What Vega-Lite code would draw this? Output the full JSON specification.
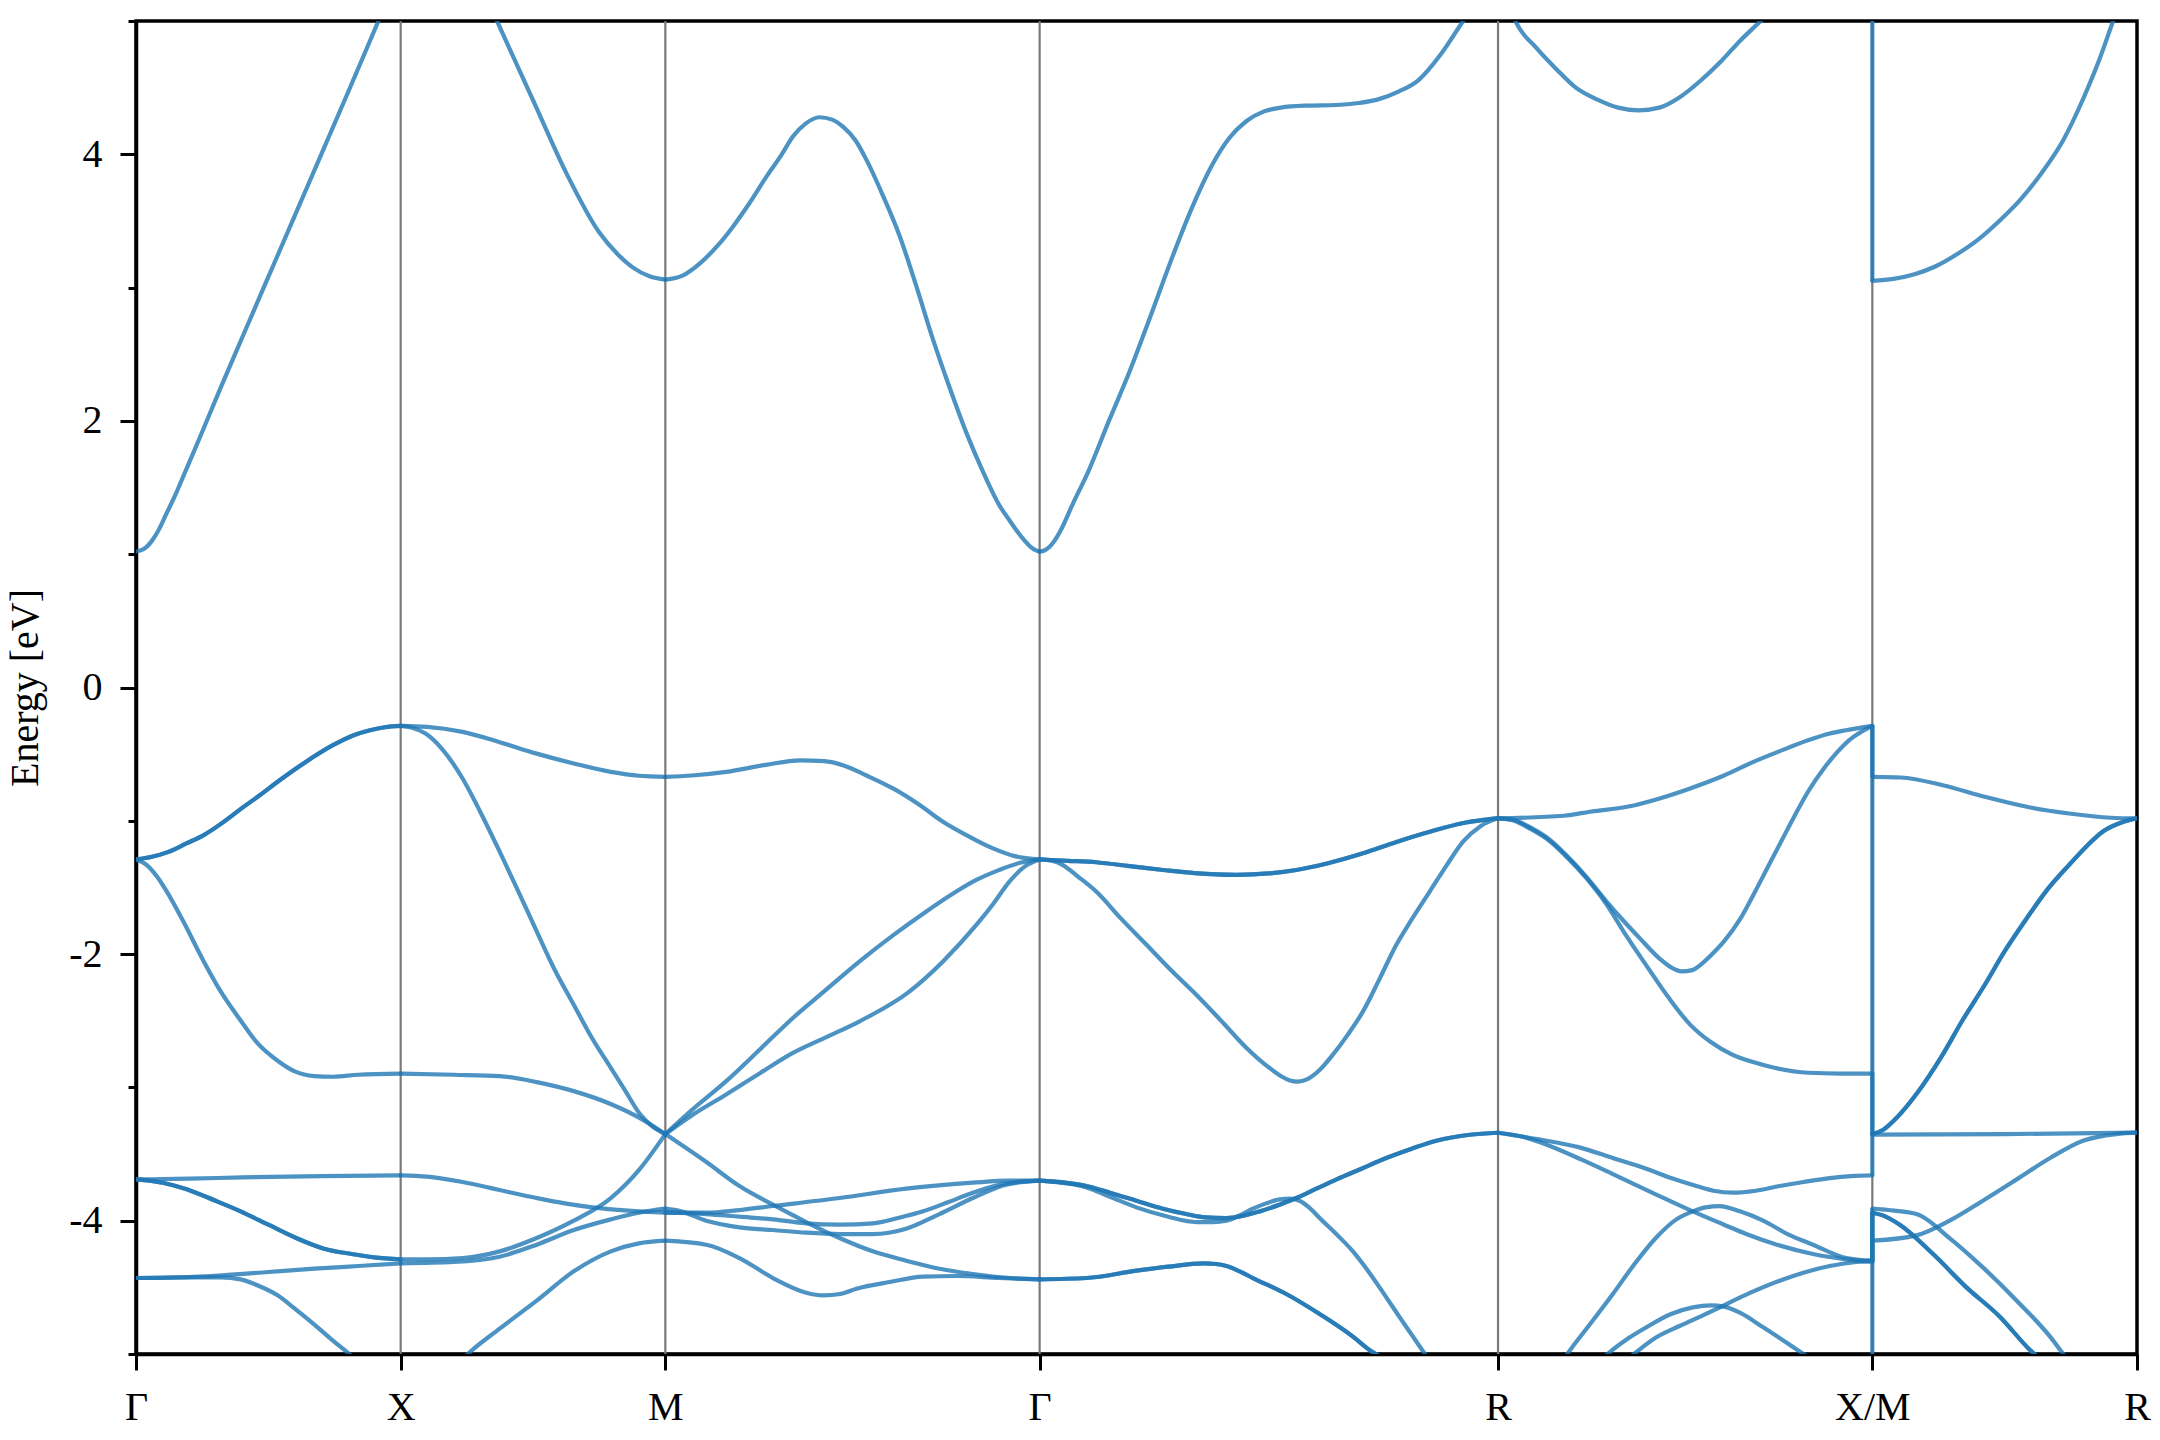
{
 "$schema": "https://vega.github.io/schema/vega-lite/v6.json",
 "width": 2001,
 "height": 1333,
 "autosize": {"type": "none"},
 "padding": {"left": 136, "top": 21, "right": 23, "bottom": 86},
 "background": "white",
 "config": {"view": {"stroke": "black", "strokeWidth": 3.5}, "font": "Liberation Serif", "axis": {"grid": false}},
 "datasets": {
  "kpts": [{"p": "X", "k": 0.5}, {"p": "M", "k": 1.0}, {"p": "Γ", "k": 1.7071}, {"p": "R", "k": 2.5731}, {"p": "X/M", "k": 3.2802}],
  "jumps": [
   {"s":"c1","k":3.2802,"e":6.0},{"s":"c1","k":3.2802,"e":3.05},
   {"s":"c2","k":3.2802,"e":-0.288},{"s":"c2","k":3.2802,"e":-0.67},
   {"s":"c3","k":3.2802,"e":-0.288},{"s":"c3","k":3.2802,"e":-3.35},
   {"s":"c4","k":3.2802,"e":-2.896},{"s":"c4","k":3.2802,"e":-3.35},
   {"s":"c5","k":3.2802,"e":-3.66},{"s":"c5","k":3.2802,"e":-3.35},
   {"s":"c6","k":3.2802,"e":-4.3},{"s":"c6","k":3.2802,"e":-3.91},
   {"s":"c7","k":3.2802,"e":-4.3},{"s":"c7","k":3.2802,"e":-3.94},
   {"s":"c8","k":3.2802,"e":-4.31},{"s":"c8","k":3.2802,"e":-3.94},
   {"s":"c9","k":3.2802,"e":-5.4},{"s":"c9","k":3.2802,"e":-4.15}
  ],
  "bands": [
   {"s":"cb1","n":1,"k":0,"e":1.02},{"s":"cb1","n":1,"k":0.01,"e":1.03},{"s":"cb1","n":1,"k":0.02,"e":1.055},{"s":"cb1","n":1,"k":0.03,"e":1.1},{"s":"cb1","n":1,"k":0.044,"e":1.19},{"s":"cb1","n":1,"k":0.057,"e":1.3},{"s":"cb1","n":1,"k":0.075,"e":1.45},{"s":"cb1","n":1,"k":0.09,"e":1.59},{"s":"cb1","n":1,"k":0.12,"e":1.87},{"s":"cb1","n":1,"k":0.16,"e":2.25},{"s":"cb1","n":1,"k":0.2,"e":2.62},{"s":"cb1","n":1,"k":0.25,"e":3.08},{"s":"cb1","n":1,"k":0.3,"e":3.54},{"s":"cb1","n":1,"k":0.35,"e":4.0},{"s":"cb1","n":1,"k":0.4,"e":4.46},{"s":"cb1","n":1,"k":0.458,"e":5.0},{"s":"cb1","n":1,"k":0.5,"e":5.39},
   {"s":"cb2","n":1,"k":0.5,"e":6.6},{"s":"cb2","n":1,"k":0.6,"e":5.75},{"s":"cb2","n":1,"k":0.687,"e":4.956},{"s":"cb2","n":1,"k":0.75,"e":4.407},{"s":"cb2","n":1,"k":0.813,"e":3.859},{"s":"cb2","n":1,"k":0.876,"e":3.409},{"s":"cb2","n":1,"k":0.91,"e":3.25},{"s":"cb2","n":1,"k":0.939,"e":3.15},{"s":"cb2","n":1,"k":0.97,"e":3.085},{"s":"cb2","n":1,"k":1.0,"e":3.06},
   {"s":"cb3","n":1,"k":1.0,"e":3.06},{"s":"cb3","n":1,"k":1.0325,"e":3.09},{"s":"cb3","n":1,"k":1.0648,"e":3.18},{"s":"cb3","n":1,"k":1.1,"e":3.32},{"s":"cb3","n":1,"k":1.128,"e":3.459},{"s":"cb3","n":1,"k":1.16,"e":3.64},{"s":"cb3","n":1,"k":1.191,"e":3.833},{"s":"cb3","n":1,"k":1.22,"e":4.0},{"s":"cb3","n":1,"k":1.241,"e":4.133},{"s":"cb3","n":1,"k":1.265,"e":4.23},{"s":"cb3","n":1,"k":1.2915,"e":4.278},{"s":"cb3","n":1,"k":1.315,"e":4.26},{"s":"cb3","n":1,"k":1.3355,"e":4.207},{"s":"cb3","n":1,"k":1.36,"e":4.1},{"s":"cb3","n":1,"k":1.38,"e":3.958},{"s":"cb3","n":1,"k":1.41,"e":3.7},{"s":"cb3","n":1,"k":1.443,"e":3.384},{"s":"cb3","n":1,"k":1.475,"e":3.0},{"s":"cb3","n":1,"k":1.5056,"e":2.611},{"s":"cb3","n":1,"k":1.537,"e":2.25},{"s":"cb3","n":1,"k":1.5686,"e":1.912},{"s":"cb3","n":1,"k":1.6,"e":1.62},{"s":"cb3","n":1,"k":1.6316,"e":1.363},{"s":"cb3","n":1,"k":1.65,"e":1.255},{"s":"cb3","n":1,"k":1.665,"e":1.17},{"s":"cb3","n":1,"k":1.678,"e":1.105},{"s":"cb3","n":1,"k":1.69,"e":1.055},{"s":"cb3","n":1,"k":1.699,"e":1.03},{"s":"cb3","n":1,"k":1.7071,"e":1.02},
   {"s":"cb4","n":1,"k":1.7071,"e":1.02},{"s":"cb4","n":1,"k":1.716,"e":1.028},{"s":"cb4","n":1,"k":1.725,"e":1.052},{"s":"cb4","n":1,"k":1.735,"e":1.1},{"s":"cb4","n":1,"k":1.747,"e":1.18},{"s":"cb4","n":1,"k":1.77,"e":1.38},{"s":"cb4","n":1,"k":1.799,"e":1.62},{"s":"cb4","n":1,"k":1.838,"e":2.0},{"s":"cb4","n":1,"k":1.877,"e":2.37},{"s":"cb4","n":1,"k":1.916,"e":2.78},{"s":"cb4","n":1,"k":1.955,"e":3.2},{"s":"cb4","n":1,"k":1.995,"e":3.6},{"s":"cb4","n":1,"k":2.033,"e":3.92},{"s":"cb4","n":1,"k":2.065,"e":4.12},{"s":"cb4","n":1,"k":2.098,"e":4.25},{"s":"cb4","n":1,"k":2.13,"e":4.32},{"s":"cb4","n":1,"k":2.163,"e":4.35},{"s":"cb4","n":1,"k":2.21,"e":4.365},{"s":"cb4","n":1,"k":2.267,"e":4.37},{"s":"cb4","n":1,"k":2.31,"e":4.385},{"s":"cb4","n":1,"k":2.345,"e":4.41},{"s":"cb4","n":1,"k":2.385,"e":4.47},{"s":"cb4","n":1,"k":2.423,"e":4.557},{"s":"cb4","n":1,"k":2.465,"e":4.75},{"s":"cb4","n":1,"k":2.507,"e":5.0},{"s":"cb4","n":1,"k":2.5731,"e":5.4},
   {"s":"cb5","n":1,"k":2.5731,"e":5.4},{"s":"cb5","n":1,"k":2.606,"e":5.0},{"s":"cb5","n":1,"k":2.645,"e":4.8},{"s":"cb5","n":1,"k":2.683,"e":4.64},{"s":"cb5","n":1,"k":2.72,"e":4.5},{"s":"cb5","n":1,"k":2.761,"e":4.41},{"s":"cb5","n":1,"k":2.8,"e":4.35},{"s":"cb5","n":1,"k":2.839,"e":4.33},{"s":"cb5","n":1,"k":2.878,"e":4.35},{"s":"cb5","n":1,"k":2.917,"e":4.43},{"s":"cb5","n":1,"k":2.955,"e":4.55},{"s":"cb5","n":1,"k":2.995,"e":4.7},{"s":"cb5","n":1,"k":3.03,"e":4.85},{"s":"cb5","n":1,"k":3.069,"e":5.0},{"s":"cb5","n":1,"k":3.2802,"e":6.0},
   {"s":"cb6","n":1,"k":3.2802,"e":3.05},{"s":"cb6","n":1,"k":3.32,"e":3.065},{"s":"cb6","n":1,"k":3.36,"e":3.1},{"s":"cb6","n":1,"k":3.4,"e":3.16},{"s":"cb6","n":1,"k":3.44,"e":3.25},{"s":"cb6","n":1,"k":3.48,"e":3.36},{"s":"cb6","n":1,"k":3.52,"e":3.5},{"s":"cb6","n":1,"k":3.56,"e":3.66},{"s":"cb6","n":1,"k":3.6,"e":3.86},{"s":"cb6","n":1,"k":3.64,"e":4.1},{"s":"cb6","n":1,"k":3.68,"e":4.43},{"s":"cb6","n":1,"k":3.71,"e":4.72},{"s":"cb6","n":1,"k":3.735,"e":5.0},{"s":"cb6","n":1,"k":3.7802,"e":5.5},

   {"s":"v1","n":2,"k":0,"e":-1.29},{"s":"v1","n":2,"k":0.03,"e":-1.27},{"s":"v1","n":2,"k":0.06,"e":-1.235},{"s":"v1","n":2,"k":0.095,"e":-1.17},{"s":"v1","n":2,"k":0.128,"e":-1.107},{"s":"v1","n":2,"k":0.165,"e":-1.01},{"s":"v1","n":2,"k":0.2,"e":-0.905},{"s":"v1","n":2,"k":0.235,"e":-0.805},{"s":"v1","n":2,"k":0.2675,"e":-0.707},{"s":"v1","n":2,"k":0.32,"e":-0.56},{"s":"v1","n":2,"k":0.372,"e":-0.433},{"s":"v1","n":2,"k":0.41,"e":-0.36},{"s":"v1","n":2,"k":0.442,"e":-0.321},{"s":"v1","n":2,"k":0.47,"e":-0.298},{"s":"v1","n":2,"k":0.5,"e":-0.288},
   {"s":"v2","n":1,"k":0,"e":-1.29},{"s":"v2","n":1,"k":0.02,"e":-1.33},{"s":"v2","n":1,"k":0.04,"e":-1.42},{"s":"v2","n":1,"k":0.058,"e":-1.53},{"s":"v2","n":1,"k":0.09,"e":-1.76},{"s":"v2","n":1,"k":0.128,"e":-2.055},{"s":"v2","n":1,"k":0.16,"e":-2.28},{"s":"v2","n":1,"k":0.198,"e":-2.5},{"s":"v2","n":1,"k":0.23,"e":-2.67},{"s":"v2","n":1,"k":0.2675,"e":-2.8},{"s":"v2","n":1,"k":0.3,"e":-2.88},{"s":"v2","n":1,"k":0.337,"e":-2.915},{"s":"v2","n":1,"k":0.372,"e":-2.92},{"s":"v2","n":1,"k":0.42,"e":-2.905},{"s":"v2","n":1,"k":0.5,"e":-2.896},
   {"s":"v3","n":1,"k":0,"e":-3.69},{"s":"v3","n":1,"k":0.1,"e":-3.685},{"s":"v3","n":1,"k":0.2,"e":-3.675},{"s":"v3","n":1,"k":0.35,"e":-3.665},{"s":"v3","n":1,"k":0.5,"e":-3.66},
   {"s":"v4","n":2,"k":0,"e":-3.69},{"s":"v4","n":2,"k":0.05,"e":-3.715},{"s":"v4","n":2,"k":0.0928,"e":-3.76},{"s":"v4","n":2,"k":0.15,"e":-3.85},{"s":"v4","n":2,"k":0.1976,"e":-3.93},{"s":"v4","n":2,"k":0.25,"e":-4.03},{"s":"v4","n":2,"k":0.3025,"e":-4.13},{"s":"v4","n":2,"k":0.355,"e":-4.21},{"s":"v4","n":2,"k":0.4074,"e":-4.25},{"s":"v4","n":2,"k":0.45,"e":-4.275},{"s":"v4","n":2,"k":0.5,"e":-4.29},
   {"s":"v5","n":1,"k":0,"e":-4.43},{"s":"v5","n":1,"k":0.08,"e":-4.425},{"s":"v5","n":1,"k":0.1627,"e":-4.41},{"s":"v5","n":1,"k":0.25,"e":-4.385},{"s":"v5","n":1,"k":0.337,"e":-4.36},{"s":"v5","n":1,"k":0.42,"e":-4.34},{"s":"v5","n":1,"k":0.5,"e":-4.32},
   {"s":"v6","n":1,"k":0,"e":-4.43},{"s":"v6","n":1,"k":0.1,"e":-4.425},{"s":"v6","n":1,"k":0.16,"e":-4.425},{"s":"v6","n":1,"k":0.1976,"e":-4.44},{"s":"v6","n":1,"k":0.2325,"e":-4.49},{"s":"v6","n":1,"k":0.2675,"e":-4.56},{"s":"v6","n":1,"k":0.3,"e":-4.66},{"s":"v6","n":1,"k":0.337,"e":-4.78},{"s":"v6","n":1,"k":0.372,"e":-4.9},{"s":"v6","n":1,"k":0.403,"e":-5.0},{"s":"v6","n":1,"k":0.45,"e":-5.16},{"s":"v6","n":1,"k":0.5,"e":-5.3},
   {"s":"v7","n":1,"k":0.5,"e":-0.288},{"s":"v7","n":1,"k":0.55,"e":-0.295},{"s":"v7","n":1,"k":0.617,"e":-0.333},{"s":"v7","n":1,"k":0.687,"e":-0.41},{"s":"v7","n":1,"k":0.757,"e":-0.496},{"s":"v7","n":1,"k":0.827,"e":-0.57},{"s":"v7","n":1,"k":0.897,"e":-0.633},{"s":"v7","n":1,"k":0.95,"e":-0.662},{"s":"v7","n":1,"k":1.0,"e":-0.67},
   {"s":"v8","n":1,"k":0.5,"e":-0.288},{"s":"v8","n":1,"k":0.52,"e":-0.3},{"s":"v8","n":1,"k":0.547,"e":-0.346},{"s":"v8","n":1,"k":0.58,"e":-0.47},{"s":"v8","n":1,"k":0.617,"e":-0.683},{"s":"v8","n":1,"k":0.65,"e":-0.93},{"s":"v8","n":1,"k":0.687,"e":-1.231},{"s":"v8","n":1,"k":0.72,"e":-1.51},{"s":"v8","n":1,"k":0.757,"e":-1.83},{"s":"v8","n":1,"k":0.79,"e":-2.11},{"s":"v8","n":1,"k":0.827,"e":-2.38},{"s":"v8","n":1,"k":0.86,"e":-2.62},{"s":"v8","n":1,"k":0.897,"e":-2.853},{"s":"v8","n":1,"k":0.925,"e":-3.03},{"s":"v8","n":1,"k":0.952,"e":-3.2},{"s":"v8","n":1,"k":0.975,"e":-3.29},{"s":"v8","n":1,"k":1.0,"e":-3.35},
   {"s":"v9","n":1,"k":0.5,"e":-2.896},{"s":"v9","n":1,"k":0.6,"e":-2.905},{"s":"v9","n":1,"k":0.687,"e":-2.915},{"s":"v9","n":1,"k":0.757,"e":-2.96},{"s":"v9","n":1,"k":0.827,"e":-3.028},{"s":"v9","n":1,"k":0.9,"e":-3.13},{"s":"v9","n":1,"k":0.952,"e":-3.23},{"s":"v9","n":1,"k":1.0,"e":-3.35},
   {"s":"v10","n":1,"k":0.5,"e":-3.66},{"s":"v10","n":1,"k":0.55,"e":-3.67},{"s":"v10","n":1,"k":0.617,"e":-3.71},{"s":"v10","n":1,"k":0.687,"e":-3.77},{"s":"v10","n":1,"k":0.757,"e":-3.83},{"s":"v10","n":1,"k":0.81,"e":-3.87},{"s":"v10","n":1,"k":0.862,"e":-3.9},{"s":"v10","n":1,"k":0.93,"e":-3.925},{"s":"v10","n":1,"k":1.0,"e":-3.94},
   {"s":"v11","n":1,"k":0.5,"e":-4.29},{"s":"v11","n":1,"k":0.55,"e":-4.29},{"s":"v11","n":1,"k":0.617,"e":-4.28},{"s":"v11","n":1,"k":0.687,"e":-4.23},{"s":"v11","n":1,"k":0.757,"e":-4.13},{"s":"v11","n":1,"k":0.827,"e":-4.0},{"s":"v11","n":1,"k":0.897,"e":-3.83},{"s":"v11","n":1,"k":0.95,"e":-3.62},{"s":"v11","n":1,"k":1.0,"e":-3.35},
   {"s":"v12","n":1,"k":0.5,"e":-4.32},{"s":"v12","n":1,"k":0.6,"e":-4.31},{"s":"v12","n":1,"k":0.687,"e":-4.27},{"s":"v12","n":1,"k":0.757,"e":-4.18},{"s":"v12","n":1,"k":0.827,"e":-4.07},{"s":"v12","n":1,"k":0.897,"e":-3.99},{"s":"v12","n":1,"k":0.95,"e":-3.94},{"s":"v12","n":1,"k":1.0,"e":-3.91},
   {"s":"v13","n":1,"k":0.5,"e":-5.7},{"s":"v13","n":1,"k":0.58,"e":-5.2},{"s":"v13","n":1,"k":0.627,"e":-5.0},{"s":"v13","n":1,"k":0.687,"e":-4.81},{"s":"v13","n":1,"k":0.757,"e":-4.6},{"s":"v13","n":1,"k":0.827,"e":-4.38},{"s":"v13","n":1,"k":0.897,"e":-4.23},{"s":"v13","n":1,"k":0.95,"e":-4.17},{"s":"v13","n":1,"k":1.0,"e":-4.15},
   {"s":"v14","n":1,"k":1.0,"e":-0.67},{"s":"v14","n":1,"k":1.05,"e":-0.66},{"s":"v14","n":1,"k":1.115,"e":-0.633},{"s":"v14","n":1,"k":1.19,"e":-0.58},{"s":"v14","n":1,"k":1.254,"e":-0.546},{"s":"v14","n":1,"k":1.3,"e":-0.553},{"s":"v14","n":1,"k":1.3355,"e":-0.583},{"s":"v14","n":1,"k":1.38,"e":-0.66},{"s":"v14","n":1,"k":1.43,"e":-0.757},{"s":"v14","n":1,"k":1.48,"e":-0.88},{"s":"v14","n":1,"k":1.5245,"e":-1.007},{"s":"v14","n":1,"k":1.57,"e":-1.11},{"s":"v14","n":1,"k":1.619,"e":-1.207},{"s":"v14","n":1,"k":1.66,"e":-1.265},{"s":"v14","n":1,"k":1.7071,"e":-1.29},
   {"s":"v15","n":1,"k":1.0,"e":-3.35},{"s":"v15","n":1,"k":1.05,"e":-3.17},{"s":"v15","n":1,"k":1.115,"e":-2.953},{"s":"v15","n":1,"k":1.18,"e":-2.71},{"s":"v15","n":1,"k":1.241,"e":-2.479},{"s":"v15","n":1,"k":1.3,"e":-2.28},{"s":"v15","n":1,"k":1.367,"e":-2.055},{"s":"v15","n":1,"k":1.43,"e":-1.86},{"s":"v15","n":1,"k":1.493,"e":-1.68},{"s":"v15","n":1,"k":1.54,"e":-1.555},{"s":"v15","n":1,"k":1.5875,"e":-1.444},{"s":"v15","n":1,"k":1.63,"e":-1.37},{"s":"v15","n":1,"k":1.67,"e":-1.315},{"s":"v15","n":1,"k":1.7071,"e":-1.29},
   {"s":"v16","n":1,"k":1.0,"e":-3.35},{"s":"v16","n":1,"k":1.05,"e":-3.21},{"s":"v16","n":1,"k":1.115,"e":-3.053},{"s":"v16","n":1,"k":1.18,"e":-2.89},{"s":"v16","n":1,"k":1.241,"e":-2.741},{"s":"v16","n":1,"k":1.3,"e":-2.63},{"s":"v16","n":1,"k":1.367,"e":-2.504},{"s":"v16","n":1,"k":1.4615,"e":-2.279},{"s":"v16","n":1,"k":1.5245,"e":-2.055},{"s":"v16","n":1,"k":1.5875,"e":-1.781},{"s":"v16","n":1,"k":1.62,"e":-1.62},{"s":"v16","n":1,"k":1.65,"e":-1.456},{"s":"v16","n":1,"k":1.68,"e":-1.34},{"s":"v16","n":1,"k":1.7071,"e":-1.29},
   {"s":"v17","n":1,"k":1.0,"e":-3.35},{"s":"v17","n":1,"k":1.0775,"e":-3.56},{"s":"v17","n":1,"k":1.14,"e":-3.74},{"s":"v17","n":1,"k":1.2033,"e":-3.88},{"s":"v17","n":1,"k":1.266,"e":-4.01},{"s":"v17","n":1,"k":1.329,"e":-4.13},{"s":"v17","n":1,"k":1.392,"e":-4.23},{"s":"v17","n":1,"k":1.455,"e":-4.3},{"s":"v17","n":1,"k":1.518,"e":-4.36},{"s":"v17","n":1,"k":1.581,"e":-4.4},{"s":"v17","n":1,"k":1.65,"e":-4.43},{"s":"v17","n":1,"k":1.7071,"e":-4.44},
   {"s":"v18","n":1,"k":1.0,"e":-3.94},{"s":"v18","n":1,"k":1.0775,"e":-3.94},{"s":"v18","n":1,"k":1.14,"e":-3.92},{"s":"v18","n":1,"k":1.2033,"e":-3.89},{"s":"v18","n":1,"k":1.329,"e":-3.83},{"s":"v18","n":1,"k":1.455,"e":-3.76},{"s":"v18","n":1,"k":1.581,"e":-3.715},{"s":"v18","n":1,"k":1.65,"e":-3.7},{"s":"v18","n":1,"k":1.7071,"e":-3.7},
   {"s":"v19","n":1,"k":1.0,"e":-3.94},{"s":"v19","n":1,"k":1.0775,"e":-3.95},{"s":"v19","n":1,"k":1.14,"e":-3.97},{"s":"v19","n":1,"k":1.2033,"e":-3.99},{"s":"v19","n":1,"k":1.266,"e":-4.02},{"s":"v19","n":1,"k":1.329,"e":-4.03},{"s":"v19","n":1,"k":1.392,"e":-4.02},{"s":"v19","n":1,"k":1.44,"e":-3.98},{"s":"v19","n":1,"k":1.487,"e":-3.93},{"s":"v19","n":1,"k":1.535,"e":-3.86},{"s":"v19","n":1,"k":1.581,"e":-3.79},{"s":"v19","n":1,"k":1.644,"e":-3.72},{"s":"v19","n":1,"k":1.7071,"e":-3.7},
   {"s":"v20","n":1,"k":1.0,"e":-3.91},{"s":"v20","n":1,"k":1.03,"e":-3.93},{"s":"v20","n":1,"k":1.0775,"e":-4.0},{"s":"v20","n":1,"k":1.14,"e":-4.05},{"s":"v20","n":1,"k":1.2033,"e":-4.07},{"s":"v20","n":1,"k":1.266,"e":-4.09},{"s":"v20","n":1,"k":1.329,"e":-4.1},{"s":"v20","n":1,"k":1.392,"e":-4.1},{"s":"v20","n":1,"k":1.455,"e":-4.06},{"s":"v20","n":1,"k":1.518,"e":-3.95},{"s":"v20","n":1,"k":1.581,"e":-3.83},{"s":"v20","n":1,"k":1.644,"e":-3.73},{"s":"v20","n":1,"k":1.7071,"e":-3.7},
   {"s":"v21","n":1,"k":1.0,"e":-4.15},{"s":"v21","n":1,"k":1.0775,"e":-4.18},{"s":"v21","n":1,"k":1.14,"e":-4.28},{"s":"v21","n":1,"k":1.2033,"e":-4.43},{"s":"v21","n":1,"k":1.266,"e":-4.54},{"s":"v21","n":1,"k":1.298,"e":-4.56},{"s":"v21","n":1,"k":1.33,"e":-4.55},{"s":"v21","n":1,"k":1.361,"e":-4.51},{"s":"v21","n":1,"k":1.424,"e":-4.46},{"s":"v21","n":1,"k":1.487,"e":-4.42},{"s":"v21","n":1,"k":1.55,"e":-4.415},{"s":"v21","n":1,"k":1.63,"e":-4.43},{"s":"v21","n":1,"k":1.7071,"e":-4.44},
   {"s":"v22","n":2,"k":1.7071,"e":-1.29},{"s":"v22","n":2,"k":1.76,"e":-1.3},{"s":"v22","n":2,"k":1.814,"e":-1.311},{"s":"v22","n":2,"k":1.877,"e":-1.34},{"s":"v22","n":2,"k":1.94,"e":-1.369},{"s":"v22","n":2,"k":2.0,"e":-1.393},{"s":"v22","n":2,"k":2.079,"e":-1.406},{"s":"v22","n":2,"k":2.14,"e":-1.395},{"s":"v22","n":2,"k":2.192,"e":-1.369},{"s":"v22","n":2,"k":2.25,"e":-1.32},{"s":"v22","n":2,"k":2.318,"e":-1.244},{"s":"v22","n":2,"k":2.38,"e":-1.16},{"s":"v22","n":2,"k":2.444,"e":-1.082},{"s":"v22","n":2,"k":2.51,"e":-1.015},{"s":"v22","n":2,"k":2.5731,"e":-0.98},
   {"s":"v23","n":1,"k":1.7071,"e":-1.29},{"s":"v23","n":1,"k":1.73,"e":-1.3},{"s":"v23","n":1,"k":1.751,"e":-1.332},{"s":"v23","n":1,"k":1.78,"e":-1.42},{"s":"v23","n":1,"k":1.814,"e":-1.531},{"s":"v23","n":1,"k":1.86,"e":-1.73},{"s":"v23","n":1,"k":1.909,"e":-1.93},{"s":"v23","n":1,"k":1.955,"e":-2.12},{"s":"v23","n":1,"k":2.003,"e":-2.305},{"s":"v23","n":1,"k":2.05,"e":-2.5},{"s":"v23","n":1,"k":2.098,"e":-2.704},{"s":"v23","n":1,"k":2.14,"e":-2.85},{"s":"v23","n":1,"k":2.165,"e":-2.92},{"s":"v23","n":1,"k":2.18,"e":-2.948},{"s":"v23","n":1,"k":2.195,"e":-2.957},{"s":"v23","n":1,"k":2.212,"e":-2.94},{"s":"v23","n":1,"k":2.236,"e":-2.87},{"s":"v23","n":1,"k":2.26,"e":-2.76},{"s":"v23","n":1,"k":2.29,"e":-2.6},{"s":"v23","n":1,"k":2.318,"e":-2.43},{"s":"v23","n":1,"k":2.35,"e":-2.18},{"s":"v23","n":1,"k":2.381,"e":-1.93},{"s":"v23","n":1,"k":2.41,"e":-1.74},{"s":"v23","n":1,"k":2.444,"e":-1.531},{"s":"v23","n":1,"k":2.475,"e":-1.34},{"s":"v23","n":1,"k":2.507,"e":-1.156},{"s":"v23","n":1,"k":2.54,"e":-1.04},{"s":"v23","n":1,"k":2.5731,"e":-0.98},
   {"s":"v24","n":2,"k":1.7071,"e":-3.7},{"s":"v24","n":2,"k":1.7954,"e":-3.74},{"s":"v24","n":2,"k":1.84,"e":-3.79},{"s":"v24","n":2,"k":1.89,"e":-3.85},{"s":"v24","n":2,"k":1.94,"e":-3.91},{"s":"v24","n":2,"k":1.984,"e":-3.95},{"s":"v24","n":2,"k":2.02,"e":-3.975},{"s":"v24","n":2,"k":2.06,"e":-3.98},{"s":"v24","n":2,"k":2.09,"e":-3.965},{"s":"v24","n":2,"k":2.123,"e":-3.93},{"s":"v24","n":2,"k":2.16,"e":-3.88},{"s":"v24","n":2,"k":2.192,"e":-3.83},{"s":"v24","n":2,"k":2.23,"e":-3.76},{"s":"v24","n":2,"k":2.268,"e":-3.69},{"s":"v24","n":2,"k":2.315,"e":-3.61},{"s":"v24","n":2,"k":2.362,"e":-3.53},{"s":"v24","n":2,"k":2.41,"e":-3.46},{"s":"v24","n":2,"k":2.4566,"e":-3.4},{"s":"v24","n":2,"k":2.52,"e":-3.355},{"s":"v24","n":2,"k":2.5731,"e":-3.34},
   {"s":"v25","n":1,"k":1.7071,"e":-3.7},{"s":"v25","n":1,"k":1.7954,"e":-3.75},{"s":"v25","n":1,"k":1.84,"e":-3.82},{"s":"v25","n":1,"k":1.89,"e":-3.9},{"s":"v25","n":1,"k":1.95,"e":-3.97},{"s":"v25","n":1,"k":2.003,"e":-4.01},{"s":"v25","n":1,"k":2.035,"e":-4.01},{"s":"v25","n":1,"k":2.06,"e":-4.0},{"s":"v25","n":1,"k":2.085,"e":-3.96},{"s":"v25","n":1,"k":2.11,"e":-3.91},{"s":"v25","n":1,"k":2.135,"e":-3.87},{"s":"v25","n":1,"k":2.161,"e":-3.84},{"s":"v25","n":1,"k":2.18,"e":-3.835},{"s":"v25","n":1,"k":2.198,"e":-3.85},{"s":"v25","n":1,"k":2.216,"e":-3.9},{"s":"v25","n":1,"k":2.236,"e":-3.98},{"s":"v25","n":1,"k":2.27,"e":-4.11},{"s":"v25","n":1,"k":2.299,"e":-4.23},{"s":"v25","n":1,"k":2.33,"e":-4.39},{"s":"v25","n":1,"k":2.362,"e":-4.575},{"s":"v25","n":1,"k":2.39,"e":-4.74},{"s":"v25","n":1,"k":2.4125,"e":-4.87},{"s":"v25","n":1,"k":2.435,"e":-5.0},{"s":"v25","n":1,"k":2.5,"e":-5.35},{"s":"v25","n":1,"k":2.5731,"e":-5.7},
   {"s":"v26","n":2,"k":1.7071,"e":-4.44},{"s":"v26","n":2,"k":1.7954,"e":-4.43},{"s":"v26","n":2,"k":1.89,"e":-4.375},{"s":"v26","n":2,"k":1.95,"e":-4.345},{"s":"v26","n":2,"k":2.0157,"e":-4.32},{"s":"v26","n":2,"k":2.04,"e":-4.325},{"s":"v26","n":2,"k":2.06,"e":-4.34},{"s":"v26","n":2,"k":2.085,"e":-4.38},{"s":"v26","n":2,"k":2.11,"e":-4.43},{"s":"v26","n":2,"k":2.173,"e":-4.55},{"s":"v26","n":2,"k":2.236,"e":-4.7},{"s":"v26","n":2,"k":2.299,"e":-4.87},{"s":"v26","n":2,"k":2.33,"e":-4.97},{"s":"v26","n":2,"k":2.35,"e":-5.02},{"s":"v26","n":2,"k":2.45,"e":-5.28},{"s":"v26","n":2,"k":2.5731,"e":-5.55},
   {"s":"v27","n":1,"k":2.5731,"e":-0.982},{"s":"v27","n":1,"k":2.6975,"e":-0.962},{"s":"v27","n":1,"k":2.75,"e":-0.93},{"s":"v27","n":1,"k":2.8168,"e":-0.895},{"s":"v27","n":1,"k":2.88,"e":-0.83},{"s":"v27","n":1,"k":2.936,"e":-0.757},{"s":"v27","n":1,"k":3.0,"e":-0.66},{"s":"v27","n":1,"k":3.0554,"e":-0.558},{"s":"v27","n":1,"k":3.11,"e":-0.47},{"s":"v27","n":1,"k":3.1587,"e":-0.396},{"s":"v27","n":1,"k":3.2,"e":-0.345},{"s":"v27","n":1,"k":3.2303,"e":-0.321},{"s":"v27","n":1,"k":3.2802,"e":-0.288},
   {"s":"v28","n":1,"k":2.5731,"e":-0.982},{"s":"v28","n":1,"k":2.6,"e":-0.99},{"s":"v28","n":1,"k":2.634,"e":-1.05},{"s":"v28","n":1,"k":2.67,"e":-1.14},{"s":"v28","n":1,"k":2.6975,"e":-1.24},{"s":"v28","n":1,"k":2.74,"e":-1.42},{"s":"v28","n":1,"k":2.777,"e":-1.6},{"s":"v28","n":1,"k":2.81,"e":-1.75},{"s":"v28","n":1,"k":2.8406,"e":-1.88},{"s":"v28","n":1,"k":2.88,"e":-2.04},{"s":"v28","n":1,"k":2.9,"e":-2.1},{"s":"v28","n":1,"k":2.92,"e":-2.13},{"s":"v28","n":1,"k":2.94,"e":-2.12},{"s":"v28","n":1,"k":2.952,"e":-2.092},{"s":"v28","n":1,"k":2.975,"e":-2.01},{"s":"v28","n":1,"k":3.0,"e":-1.905},{"s":"v28","n":1,"k":3.03,"e":-1.74},{"s":"v28","n":1,"k":3.0554,"e":-1.556},{"s":"v28","n":1,"k":3.085,"e":-1.33},{"s":"v28","n":1,"k":3.111,"e":-1.132},{"s":"v28","n":1,"k":3.135,"e":-0.95},{"s":"v28","n":1,"k":3.1587,"e":-0.782},{"s":"v28","n":1,"k":3.19,"e":-0.6},{"s":"v28","n":1,"k":3.2143,"e":-0.483},{"s":"v28","n":1,"k":3.235,"e":-0.4},{"s":"v28","n":1,"k":3.254,"e":-0.346},{"s":"v28","n":1,"k":3.2802,"e":-0.288},
   {"s":"v29","n":1,"k":2.5731,"e":-0.982},{"s":"v29","n":1,"k":2.6,"e":-0.995},{"s":"v29","n":1,"k":2.634,"e":-1.06},{"s":"v29","n":1,"k":2.67,"e":-1.15},{"s":"v29","n":1,"k":2.6975,"e":-1.25},{"s":"v29","n":1,"k":2.74,"e":-1.43},{"s":"v29","n":1,"k":2.777,"e":-1.62},{"s":"v29","n":1,"k":2.815,"e":-1.86},{"s":"v29","n":1,"k":2.8567,"e":-2.105},{"s":"v29","n":1,"k":2.896,"e":-2.33},{"s":"v29","n":1,"k":2.936,"e":-2.529},{"s":"v29","n":1,"k":2.975,"e":-2.66},{"s":"v29","n":1,"k":3.0155,"e":-2.754},{"s":"v29","n":1,"k":3.055,"e":-2.81},{"s":"v29","n":1,"k":3.095,"e":-2.853},{"s":"v29","n":1,"k":3.1587,"e":-2.89},{"s":"v29","n":1,"k":3.22,"e":-2.896},{"s":"v29","n":1,"k":3.2802,"e":-2.896},
   {"s":"v30","n":1,"k":2.5731,"e":-3.34},{"s":"v30","n":1,"k":2.65,"e":-3.39},{"s":"v30","n":1,"k":2.727,"e":-3.45},{"s":"v30","n":1,"k":2.79,"e":-3.53},{"s":"v30","n":1,"k":2.853,"e":-3.61},{"s":"v30","n":1,"k":2.9,"e":-3.68},{"s":"v30","n":1,"k":2.948,"e":-3.74},{"s":"v30","n":1,"k":2.98,"e":-3.775},{"s":"v30","n":1,"k":3.017,"e":-3.79},{"s":"v30","n":1,"k":3.06,"e":-3.775},{"s":"v30","n":1,"k":3.105,"e":-3.74},{"s":"v30","n":1,"k":3.15,"e":-3.71},{"s":"v30","n":1,"k":3.2,"e":-3.68},{"s":"v30","n":1,"k":3.24,"e":-3.665},{"s":"v30","n":1,"k":3.2802,"e":-3.66},
   {"s":"v31","n":1,"k":2.5731,"e":-3.34},{"s":"v31","n":1,"k":2.62,"e":-3.37},{"s":"v31","n":1,"k":2.665,"e":-3.43},{"s":"v31","n":1,"k":2.73,"e":-3.54},{"s":"v31","n":1,"k":2.79,"e":-3.65},{"s":"v31","n":1,"k":2.87,"e":-3.8},{"s":"v31","n":1,"k":2.941,"e":-3.93},{"s":"v31","n":1,"k":3.0,"e":-4.03},{"s":"v31","n":1,"k":3.042,"e":-4.1},{"s":"v31","n":1,"k":3.1,"e":-4.18},{"s":"v31","n":1,"k":3.168,"e":-4.25},{"s":"v31","n":1,"k":3.23,"e":-4.29},{"s":"v31","n":1,"k":3.2802,"e":-4.31},
   {"s":"v32","n":1,"k":2.5731,"e":-5.9},{"s":"v32","n":1,"k":2.65,"e":-5.35},{"s":"v32","n":1,"k":2.704,"e":-5.0},{"s":"v32","n":1,"k":2.75,"e":-4.76},{"s":"v32","n":1,"k":2.79,"e":-4.55},{"s":"v32","n":1,"k":2.83,"e":-4.33},{"s":"v32","n":1,"k":2.872,"e":-4.126},{"s":"v32","n":1,"k":2.91,"e":-3.99},{"s":"v32","n":1,"k":2.941,"e":-3.93},{"s":"v32","n":1,"k":2.965,"e":-3.9},{"s":"v32","n":1,"k":2.992,"e":-3.89},{"s":"v32","n":1,"k":3.03,"e":-3.93},{"s":"v32","n":1,"k":3.074,"e":-4.0},{"s":"v32","n":1,"k":3.12,"e":-4.1},{"s":"v32","n":1,"k":3.168,"e":-4.18},{"s":"v32","n":1,"k":3.231,"e":-4.28},{"s":"v32","n":1,"k":3.2802,"e":-4.3},
   {"s":"v33","n":1,"k":2.65,"e":-5.6},{"s":"v33","n":1,"k":2.73,"e":-5.2},{"s":"v33","n":1,"k":2.78,"e":-5.0},{"s":"v33","n":1,"k":2.82,"e":-4.88},{"s":"v33","n":1,"k":2.853,"e":-4.8},{"s":"v33","n":1,"k":2.9,"e":-4.7},{"s":"v33","n":1,"k":2.941,"e":-4.65},{"s":"v33","n":1,"k":2.975,"e":-4.635},{"s":"v33","n":1,"k":3.0,"e":-4.645},{"s":"v33","n":1,"k":3.03,"e":-4.69},{"s":"v33","n":1,"k":3.074,"e":-4.8},{"s":"v33","n":1,"k":3.12,"e":-4.92},{"s":"v33","n":1,"k":3.15,"e":-5.0},{"s":"v33","n":1,"k":3.22,"e":-5.2},{"s":"v33","n":1,"k":3.2802,"e":-5.4},
   {"s":"v34","n":1,"k":2.65,"e":-5.8},{"s":"v34","n":1,"k":2.75,"e":-5.3},{"s":"v34","n":1,"k":2.83,"e":-5.0},{"s":"v34","n":1,"k":2.87,"e":-4.88},{"s":"v34","n":1,"k":2.916,"e":-4.79},{"s":"v34","n":1,"k":2.96,"e":-4.71},{"s":"v34","n":1,"k":2.992,"e":-4.65},{"s":"v34","n":1,"k":3.05,"e":-4.54},{"s":"v34","n":1,"k":3.105,"e":-4.45},{"s":"v34","n":1,"k":3.15,"e":-4.39},{"s":"v34","n":1,"k":3.2,"e":-4.34},{"s":"v34","n":1,"k":3.25,"e":-4.31},{"s":"v34","n":1,"k":3.2802,"e":-4.3},
   {"s":"v35","n":1,"k":3.2802,"e":-0.67},{"s":"v35","n":1,"k":3.3336,"e":-0.675},{"s":"v35","n":1,"k":3.4131,"e":-0.733},{"s":"v35","n":1,"k":3.4927,"e":-0.82},{"s":"v35","n":1,"k":3.572,"e":-0.895},{"s":"v35","n":1,"k":3.6516,"e":-0.945},{"s":"v35","n":1,"k":3.731,"e":-0.977},{"s":"v35","n":1,"k":3.7802,"e":-0.982},
   {"s":"v36","n":2,"k":3.2802,"e":-3.35},{"s":"v36","n":2,"k":3.3,"e":-3.32},{"s":"v36","n":2,"k":3.3257,"e":-3.23},{"s":"v36","n":2,"k":3.3635,"e":-3.05},{"s":"v36","n":2,"k":3.4131,"e":-2.754},{"s":"v36","n":2,"k":3.45,"e":-2.5},{"s":"v36","n":2,"k":3.4927,"e":-2.23},{"s":"v36","n":2,"k":3.53,"e":-1.98},{"s":"v36","n":2,"k":3.572,"e":-1.731},{"s":"v36","n":2,"k":3.61,"e":-1.52},{"s":"v36","n":2,"k":3.6516,"e":-1.332},{"s":"v36","n":2,"k":3.685,"e":-1.19},{"s":"v36","n":2,"k":3.7152,"e":-1.082},{"s":"v36","n":2,"k":3.755,"e":-1.007},{"s":"v36","n":2,"k":3.7802,"e":-0.982},
   {"s":"v37","n":1,"k":3.2802,"e":-3.355},{"s":"v37","n":1,"k":3.53,"e":-3.35},{"s":"v37","n":1,"k":3.7802,"e":-3.34},
   {"s":"v38","n":1,"k":3.2802,"e":-4.15},{"s":"v38","n":1,"k":3.3635,"e":-4.11},{"s":"v38","n":1,"k":3.426,"e":-4.0},{"s":"v38","n":1,"k":3.489,"e":-3.85},{"s":"v38","n":1,"k":3.553,"e":-3.69},{"s":"v38","n":1,"k":3.616,"e":-3.53},{"s":"v38","n":1,"k":3.678,"e":-3.4},{"s":"v38","n":1,"k":3.741,"e":-3.35},{"s":"v38","n":1,"k":3.7802,"e":-3.34},
   {"s":"v39","n":1,"k":3.2802,"e":-3.91},{"s":"v39","n":1,"k":3.31,"e":-3.92},{"s":"v39","n":1,"k":3.3635,"e":-3.95},{"s":"v39","n":1,"k":3.426,"e":-4.13},{"s":"v39","n":1,"k":3.489,"e":-4.35},{"s":"v39","n":1,"k":3.553,"e":-4.6},{"s":"v39","n":1,"k":3.616,"e":-4.87},{"s":"v39","n":1,"k":3.641,"e":-5.0},{"s":"v39","n":1,"k":3.7802,"e":-5.6},
   {"s":"v40","n":2,"k":3.2802,"e":-3.94},{"s":"v40","n":2,"k":3.3,"e":-3.96},{"s":"v40","n":2,"k":3.332,"e":-4.03},{"s":"v40","n":2,"k":3.395,"e":-4.25},{"s":"v40","n":2,"k":3.458,"e":-4.5},{"s":"v40","n":2,"k":3.521,"e":-4.72},{"s":"v40","n":2,"k":3.578,"e":-4.97},{"s":"v40","n":2,"k":3.6,"e":-5.05},{"s":"v40","n":2,"k":3.7802,"e":-5.7}
  ]
 },
 "layer": [
  {
   "data": {"name": "kpts"},
   "mark": {"type": "rule", "color": "#7a7a7a", "strokeWidth": 2.2},
   "encoding": {
    "x": {"field": "k", "type": "quantitative", "scale": {"domain": [0, 3.7802], "nice": false, "zero": false}, "title": null}
   }
  },
  {
   "data": {"name": "bands"},
   "mark": {"type": "line", "color": "#1f77b4", "opacity": 0.8, "strokeWidth": 4.2, "clip": true, "interpolate": "monotone", "strokeCap": "round", "strokeJoin": "round"},
   "encoding": {
    "x": {"field": "k", "type": "quantitative", "scale": {"domain": [0, 3.7802], "nice": false, "zero": false},
      "axis": {"values": [0, 0.5, 1.0, 1.7071, 2.5731, 3.2802, 3.7802],
        "labelExpr": "datum.value < 0.25 ? 'Γ' : datum.value < 0.75 ? 'X' : datum.value < 1.4 ? 'M' : datum.value < 2.1 ? 'Γ' : datum.value < 3 ? 'R' : datum.value < 3.5 ? 'X/M' : 'R'",
        "title": null, "grid": false, "labelFlush": false, "labelOverlap": false, "labelBound": false,
        "tickSize": 16, "tickWidth": 3, "tickColor": "black", "domainColor": "black", "domainWidth": 3.5,
        "labelFont": "Liberation Serif", "labelFontSize": 40, "labelColor": "black", "labelPadding": 17}},
    "y": {"field": "e", "type": "quantitative", "scale": {"domain": [-5, 5], "nice": false, "zero": false},
      "axis": {"values": [-5, -4, -3, -2, -1, 0, 1, 2, 3, 4, 5],
        "labelExpr": "abs(datum.value) % 2 == 1 ? '' : (datum.value < 0 ? '-' + abs(datum.value) : '' + datum.value)",
        "tickSize": {"condition": {"test": "abs(datum.value) % 2 == 1", "value": 8}, "value": 16},
        "title": "Energy [eV]", "titleFont": "Liberation Serif", "titleFontSize": 40, "titleFontWeight": "normal", "titleColor": "black", "titlePadding": 23,
        "grid": false, "labelFlush": false, "labelOverlap": false, "labelBound": false,
        "tickWidth": 3, "tickColor": "black", "domainColor": "black", "domainWidth": 3.5,
        "labelFont": "Liberation Serif", "labelFontSize": 40, "labelColor": "black", "labelPadding": 18}},
    "detail": {"field": "s"}
   }
  },
  {
   "data": {"name": "bands"},
   "transform": [{"filter": "datum.n == 2"}],
   "mark": {"type": "line", "color": "#1f77b4", "opacity": 0.8, "strokeWidth": 4.2, "clip": true, "interpolate": "monotone", "strokeCap": "round", "strokeJoin": "round"},
   "encoding": {
    "x": {"field": "k", "type": "quantitative"},
    "y": {"field": "e", "type": "quantitative"},
    "detail": {"field": "s"}
   }
  },
  {
   "data": {"name": "jumps"},
   "mark": {"type": "line", "color": "#1f77b4", "opacity": 0.8, "strokeWidth": 4.2, "clip": true, "strokeCap": "butt"},
   "encoding": {
    "x": {"field": "k", "type": "quantitative"},
    "y": {"field": "e", "type": "quantitative"},
    "detail": {"field": "s"}
   }
  }
 ]
}
